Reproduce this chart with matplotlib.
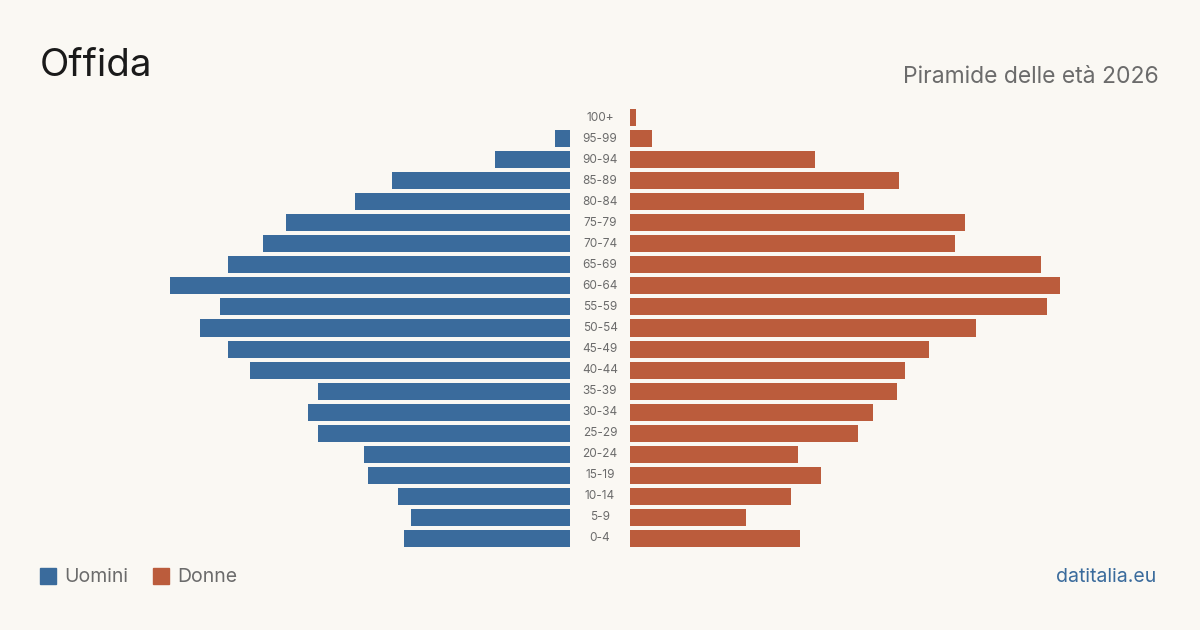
import matplotlib.pyplot as plt
from matplotlib.patches import Rectangle

plt.rcParams['font.family'] = ['Inter', 'DejaVu Sans']

BG = '#faf8f3'
MEN_COLOR = '#3a6b9c'
WOMEN_COLOR = '#bb5c3c'
GREY = '#6b6b6b'

# age classes, top to bottom
ages = ['100+', '95-99', '90-94', '85-89', '80-84', '75-79', '70-74', '65-69',
        '60-64', '55-59', '50-54', '45-49', '40-44', '35-39', '30-34', '25-29',
        '20-24', '15-19', '10-14', '5-9', '0-4']
men = [0, 7, 35, 83, 100, 132, 143, 159, 186, 163, 172, 159, 149, 117, 122,
       117, 96, 94, 80, 74, 77]
women = [3, 10, 86, 125, 109, 156, 151, 191, 200, 194, 161, 139, 128, 124, 113,
         106, 78, 89, 75, 54, 79]

W, H = 1200, 630
fig = plt.figure(figsize=(12, 6.3), dpi=100, facecolor=BG)

# axes geometry in pixels
top_px, bottom_px = 107, 549
xmax = 540 / 2.15
ax_l = fig.add_axes([30 / W, 1 - bottom_px / H, 540 / W, (bottom_px - top_px) / H])
ax_r = fig.add_axes([630 / W, 1 - bottom_px / H, 540 / W, (bottom_px - top_px) / H])

ypos = list(range(len(ages)))
for ax, vals, col in [(ax_l, men, MEN_COLOR), (ax_r, women, WOMEN_COLOR)]:
    ax.barh(ypos, vals, height=0.81, color=col)
    ax.set_ylim(len(ages) - 0.5, -0.5)
    ax.set_facecolor('none')
    ax.axis('off')
ax_l.set_xlim(xmax, 0)
ax_r.set_xlim(0, xmax)

# age labels in the middle
for i, a in enumerate(ages):
    y = 1 - (top_px + (i + 0.5) * (bottom_px - top_px) / len(ages)) / H
    fig.text(600 / W, y, a, ha='center', va='center', fontsize=8.5, color=GREY)

fig.text(40 / W, 1 - 66 / H, 'Offida', fontsize=27.7, color='#1a1a1a',
         ha='left', va='center')
fig.text(1159 / W, 1 - 77 / H, 'Piramide delle età 2026', fontsize=16.5,
         color=GREY, ha='right', va='center')

# legend
for x0, label, col in [(40, 'Uomini', MEN_COLOR), (153, 'Donne', WOMEN_COLOR)]:
    fig.patches.append(Rectangle((x0 / W, 1 - 584 / H), 16 / W, 16 / H,
                                 transform=fig.transFigure, color=col))
    fig.text((x0 + 24) / W, 1 - 577 / H, label, fontsize=14, color=GREY,
             ha='left', va='center')

fig.text(1156 / W, 1 - 577 / H, 'datitalia.eu', fontsize=14, color=MEN_COLOR,
         ha='right', va='center')

fig.savefig('out.png', dpi=100, facecolor=BG)
